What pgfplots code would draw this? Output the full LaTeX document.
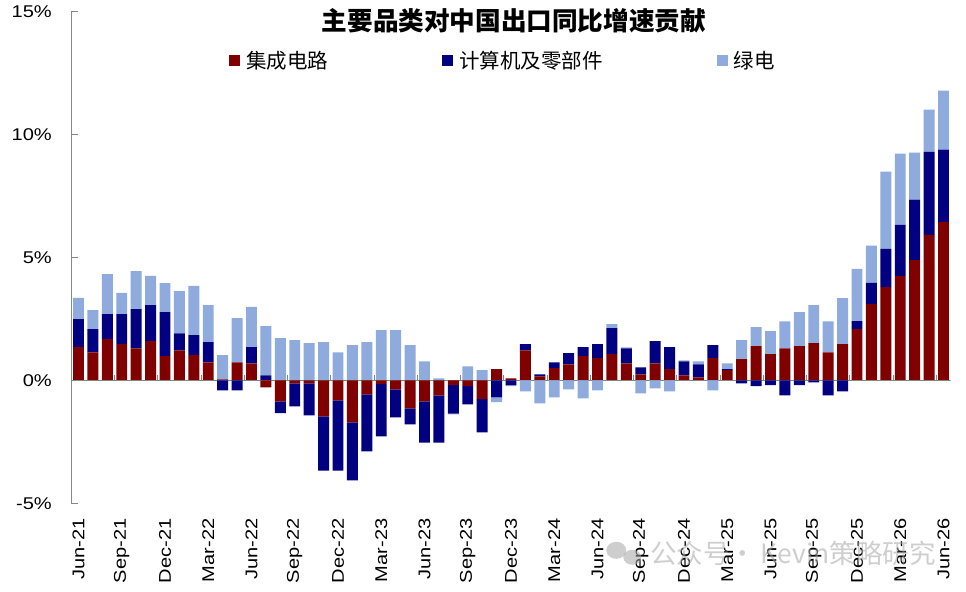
\documentclass[border=0pt]{standalone}
\usepackage{pgfplots}
\pgfplotsset{compat=1.18}
\usepackage{pgfplotstable}
\usepackage{fontspec}
\setmainfont{Liberation Sans}
\newfontfamily\cjk{Noto Sans CJK SC}

\definecolor{icred}{RGB}{128,0,0}
\definecolor{compblue}{RGB}{0,0,128}
\definecolor{greenelec}{RGB}{143,170,220}
\definecolor{axisgray}{RGB}{134,134,134}

% Contribution to China's export growth (percentage points), Jun-21 .. Jun-26
% idx: month index from Jun-21; ic: integrated circuits; comp: computers and parts; green: green power
\pgfplotstableread{
idx ic comp green
0 1.35 1.14 0.86
1 1.14 0.94 0.77
2 1.67 1.02 1.63
3 1.47 1.22 0.86
4 1.30 1.59 1.55
5 1.59 1.47 1.18
6 0.98 1.79 1.18
7 1.22 0.69 1.71
8 1.02 0.82 2.00
9 0.73 0.82 1.51
10 0.04 -0.41 0.98
11 0.73 -0.41 1.80
12 0.69 0.66 1.63
13 -0.29 0.20 2.00
14 -0.86 -0.47 1.71
15 -0.12 -0.94 1.63
16 -0.12 -1.31 1.51
17 -1.47 -2.20 1.55
18 -0.82 -2.85 1.14
19 -1.71 -2.36 1.43
20 -0.57 -2.32 1.55
21 -0.16 -2.12 2.04
22 -0.37 -1.14 2.04
23 -1.14 -0.65 1.43
24 -0.86 -1.67 0.77
25 -0.61 -1.92 0.08
26 -0.20 -1.15 -0.04
27 -0.24 -0.74 0.57
28 -0.77 -1.35 0.41
29 0.45 -0.69 -0.20
30 0.08 -0.20 -0.04
31 1.22 0.25 -0.45
32 0.16 0.08 -0.94
33 0.49 0.24 -0.69
34 0.65 0.45 -0.37
35 0.98 0.37 -0.73
36 0.90 0.57 -0.41
37 1.06 1.06 0.16
38 0.69 0.61 0.04
39 0.24 0.29 -0.53
40 0.69 0.90 -0.33
41 0.45 0.90 -0.45
42 0.20 0.57 0.04
43 0.12 0.53 0.12
44 0.90 0.53 -0.41
45 0.41 0.04 0.24
46 0.86 -0.12 0.77
47 1.39 -0.24 0.77
48 1.06 -0.20 0.94
49 1.30 -0.61 1.10
50 1.39 -0.20 1.38
51 1.51 -0.08 1.55
52 1.14 -0.61 1.26
53 1.47 -0.45 1.87
54 2.08 0.33 2.12
55 3.10 0.86 1.51
56 3.79 1.55 3.14
57 4.24 2.08 2.89
58 4.89 2.45 1.91
59 5.91 3.38 1.71
60 6.44 2.94 2.40
}\contrib

\pgfplotsset{
  frame/.style={
    scale only axis, width=879.4bp, height=492bp,
    at={(0bp,0bp)}, anchor=south west,
    xmin=-0.5, xmax=60.5, ymin=-5, ymax=15,
    ybar stacked, bar width=0.76,
  },
}

\begin{document}
\begin{tikzpicture}
\useasboundingbox (-71.3bp,-88.7bp) rectangle (894.7bp,503.3bp);

% positive contributions, stacked upward from zero
\begin{axis}[frame,
  axis lines*=left,
  x axis line style={draw=none},
  y axis line style={axisgray, line width=1bp},
  tick align=inside,
  major tick length=7bp,
  xtick style={draw=none},
  ytick style={axisgray, line width=1bp},
  xtick={0,3,...,60},
  xticklabels={Jun-21,Sep-21,Dec-21,Mar-22,Jun-22,Sep-22,Dec-22,Mar-23,Jun-23,Sep-23,Dec-23,Mar-24,Jun-24,Sep-24,Dec-24,Mar-25,Jun-25,Sep-25,Dec-25,Mar-26,Jun-26},
  xticklabel style={font=\fontsize{17bp}{20bp}\selectfont, inner sep=0pt,
    yshift=-15bp, rotate=90, anchor=east, xscale=1.18},
  ytick={-5,0,5,10,15},
  yticklabels={-5\%,0\%,5\%,10\%,15\%},
  yticklabel style={font=\fontsize{17bp}{20bp}\selectfont, inner sep=0pt,
    xshift=-19.3bp, anchor=east, xscale=1.18},
  legend columns=3,
  legend style={at={(0.1793,0.899)}, anchor=west, draw=none, fill=none,
    inner sep=0pt, font=\cjk\fontsize{20.5bp}{24bp}\selectfont,
    nodes={inner sep=0pt},
    /tikz/every odd column/.append style={column sep=6bp},
    /tikz/every even column/.append style={column sep=114bp}},
  legend image code/.code={\fill[#1] (0bp,-5.5bp) rectangle (11bp,5.5bp);},
]
\addplot[fill=icred, draw=none] table[x=idx, y expr={max(\thisrow{ic},0)}] {\contrib};
\addlegendentry{集成电路}
\addplot[fill=compblue, draw=none] table[x=idx, y expr={max(\thisrow{comp},0)}] {\contrib};
\addlegendentry{计算机及零部件}
\addplot[fill=greenelec, draw=none] table[x=idx, y expr={max(\thisrow{green},0)}] {\contrib};
\addlegendentry{绿电}
\end{axis}

% negative contributions, stacked downward from zero
\begin{axis}[frame, hide axis]
\addplot[fill=icred, draw=none] table[x=idx, y expr={min(\thisrow{ic},0)}] {\contrib};
\addplot[fill=compblue, draw=none] table[x=idx, y expr={min(\thisrow{comp},0)}] {\contrib};
\addplot[fill=greenelec, draw=none] table[x=idx, y expr={min(\thisrow{green},0)}] {\contrib};
% zero line with quarter separators
\draw[axisgray, line width=1bp] (axis cs:-0.5,0) -- (axis cs:60.5,0);
\pgfplotsinvokeforeach{2.5,5.5,...,59.5}{
  \draw[axisgray, line width=1bp] (axis cs:#1,0) -- ++(0bp,5.7bp);
}
\end{axis}

% title
\node[font=\cjk\bfseries\fontsize{25.6bp}{30bp}\selectfont] at (442.6bp,482.8bp)
  {主要品类对中国出口同比增速贡献};

% source mark
\begin{scope}[opacity=0.55]
\fill[gray!70] (545bp,-47bp) ellipse (10bp and 8.5bp);
\fill[gray!70] (561bp,-54bp) ellipse (9bp and 7.5bp);
\node[font=\cjk\fontsize{26.5bp}{30bp}\selectfont, text=gray!70, anchor=west, inner sep=0pt]
  at (578.7bp,-49.7bp) {公众号·\,Kevin策略研究};
\end{scope}
\end{tikzpicture}
\end{document}
